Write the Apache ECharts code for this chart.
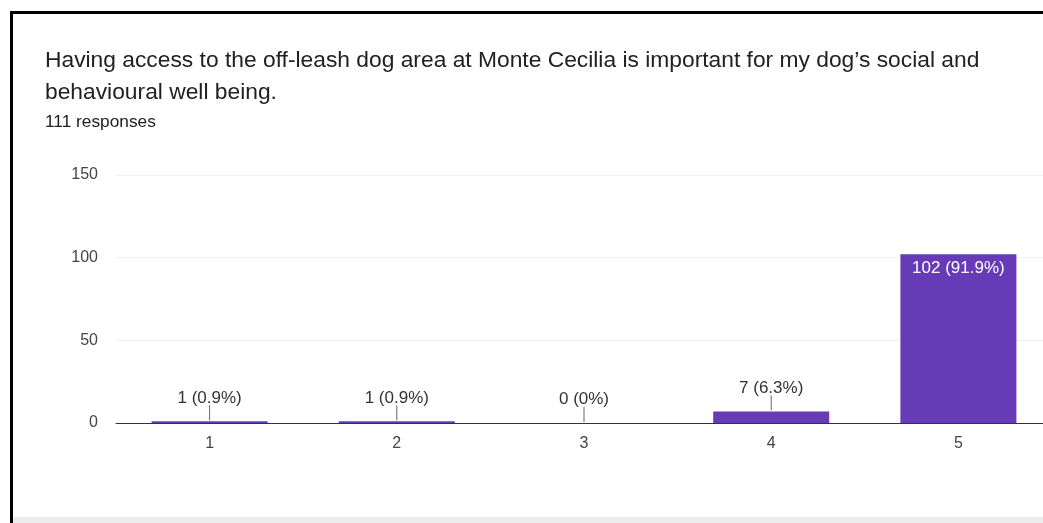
<!DOCTYPE html>
<html>
<head>
<meta charset="utf-8">
<script src="https://cdn.jsdelivr.net/npm/echarts@6/dist/echarts.min.js"></script>
<style>
html,body{margin:0;padding:0;background:#fff;overflow:hidden;}
#c{width:1060px;height:523px;}
</style>
</head>
<body>
<div id="c"></div>
<script>
const titleText = "Having access to the off-leash dog area at Monte Cecilia is important for my dog\u2019s social and\nbehavioural well being.";
const subText = "111 responses";
const categories = ["1", "2", "3", "4", "5"];
const counts = [1, 1, 0, 7, 102];
const percents = ["0.9%", "0.9%", "0%", "6.3%", "91.9%"];
const yTicks = [0, 50, 100, 150];

const FONT = "Liberation Sans, Arial, sans-serif";
const PURPLE = "#673ab7";

const chart = echarts.init(document.getElementById('c'), null, {renderer: 'canvas'});

const barData = counts.map((v, i) => {
  const inside = v > 50;
  return {
    value: v,
    label: inside
      ? {position: 'insideTop', distance: 5, color: '#ffffff'}
      : {position: 'top', distance: 15, color: '#333333'}
  };
});

const option = {
  backgroundColor: '#ffffff',
  animation: false,
  title: [
    {
      text: titleText,
      left: 45, top: 45, padding: 0,
      textStyle: {fontFamily: FONT, fontSize: 22.8, fontWeight: 'normal', color: '#202124', lineHeight: 32}
    },
    {
      text: subText,
      left: 45, top: 112, padding: 0,
      textStyle: {fontFamily: FONT, fontSize: 17.3, fontWeight: 'normal', color: '#202124', lineHeight: 20}
    }
  ],
  graphic: [
    {type: 'rect', left: 9, top: 10, shape: {width: 1100, height: 600},
     style: {fill: 'none', stroke: '#000000', lineWidth: 3}, z: 100},
    {type: 'rect', left: 12, top: 517, shape: {width: 1060, height: 6},
     style: {fill: '#ececec'}, z: 99}
  ],
  grid: {left: 116, width: 936, top: 175, bottom: 100},
  xAxis: {
    type: 'category',
    data: categories,
    axisTick: {show: false},
    axisLine: {lineStyle: {color: '#333333', width: 1}},
    axisLabel: {fontFamily: FONT, fontSize: 16, color: '#444444', margin: 13}
  },
  yAxis: {
    type: 'value',
    min: yTicks[0], max: yTicks[yTicks.length - 1], interval: 50,
    axisLine: {show: false},
    axisTick: {show: false},
    splitLine: {lineStyle: {color: '#f1f1f1'}},
    axisLabel: {fontFamily: FONT, fontSize: 16, color: '#444444', margin: 18}
  },
  series: [
    {
      type: 'bar',
      data: barData,
      barWidth: 116,
      itemStyle: {color: PURPLE},
      label: {
        show: true,
        fontFamily: FONT, fontSize: 17,
        formatter: p => counts[p.dataIndex] + ' (' + percents[p.dataIndex] + ')'
      },
      z: 2
    },
    {
      type: 'custom',
      data: counts.map((v, i) => [i, v]),
      renderItem: function (params, api) {
        const v = api.value(1);
        if (v > 50) return null;
        const p = api.coord([api.value(0), v]);
        return {
          type: 'line',
          shape: {x1: p[0], y1: p[1] - 1, x2: p[0], y2: p[1] - 16},
          style: {stroke: '#666666', lineWidth: 1}
        };
      },
      z: 3
    }
  ]
};
chart.setOption(option);
</script>
</body>
</html>
